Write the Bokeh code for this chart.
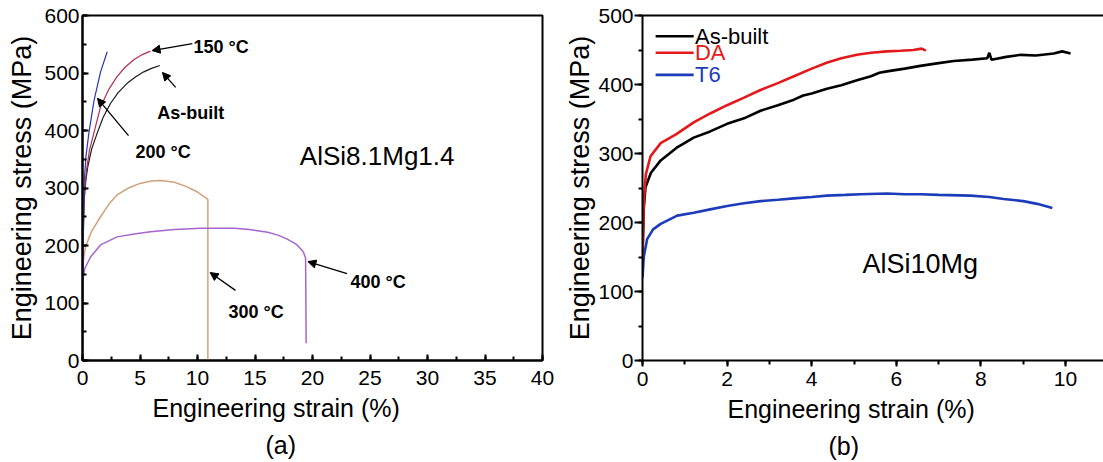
from bokeh.embed import file_html
from bokeh.resources import INLINE
from bokeh.plotting import figure
from bokeh.layouts import row
from bokeh.models import (Range1d, SingleIntervalTicker, LinearAxis, FixedTicker,
                          Label, Arrow, NormalHead, Title)

FONT = "Liberation Sans"

# ---------------- (a) AlSi8.1Mg1.4 at several test temperatures ----------------
asbuilt_a_x = [0, 0.05, 0.15, 0.3, 0.46, 0.8, 1.27, 1.8, 2.43, 3.1, 3.88, 4.6, 5.33, 6.0, 6.72]
asbuilt_a_y = [0, 200, 280, 315, 337, 368, 395, 423, 447, 466, 482, 493, 502, 508, 513]

t150_x = [0, 0.04, 0.15, 0.35, 0.6, 0.98, 1.57, 2.3, 3.02, 3.7, 4.46, 5.2, 5.91]
t150_y = [0, 200, 290, 331, 365, 395, 441, 472, 494, 510, 523, 532, 538]

t200_x = [0, 0.05, 0.15, 0.3, 0.55, 1.0, 1.57, 2.15]
t200_y = [0, 230, 310, 355, 395, 452, 502, 537]

t300_x = [0, 0.05, 0.26, 0.8, 1.57, 2.3, 3.0, 4.0, 5.0, 6.0, 6.8, 8.0, 9.1, 10.0, 10.8, 10.9, 10.9]
t300_y = [0, 170, 198, 225, 250, 272, 288, 300, 308, 312, 313, 310, 302, 293, 282, 280, 0]

t400_x = [0, 0.03, 0.2, 0.7, 1.57, 3.0, 4.5, 5.9, 8.0, 10.3, 13.2, 14.5, 16.1, 17.0, 17.8,
          18.6, 19.2, 19.4, 19.45]
t400_y = [0, 140, 160, 180, 201, 215, 220, 224, 228, 230, 230, 228, 223, 218, 211,
          202, 189, 178, 30]

# annotation texts (label, text x, text baseline y, arrow tail x, tail y, head x, head y)
notes_a = [
    ("150 °C", 9.65, 545, 9.55, 551, 6.05, 539),
    ("As-built", 6.5, 431, 8.1, 475, 6.95, 501),
    ("200 °C", 4.6, 362, 4.0, 391, 1.3, 456),
    ("300 °C", 12.7, 84, 13.3, 122, 11.1, 153),
    ("400 °C", 23.3, 136, 23.0, 151, 19.6, 172),
]

# ---------------- (b) AlSi10Mg in three conditions ----------------
asbuilt_b_x = [0, 0.03, 0.07, 0.2, 0.43, 0.8, 1.21, 1.6, 2.0, 2.4, 2.79, 3.2, 3.58, 3.8, 4.0,
               4.36, 4.7, 5.07, 5.4, 5.6, 5.78, 6.2, 6.57, 7.0, 7.36, 7.8, 8.15, 8.2, 8.25,
               8.6, 8.94, 9.3, 9.72, 9.92, 10.12]
asbuilt_b_y = [150, 220, 251, 272, 290, 308, 323, 332, 343, 351, 362, 370, 378, 384, 387,
               394, 399, 406, 412, 417, 419, 423, 427, 431, 434, 436, 438, 446, 436,
               440, 443, 442, 445, 448, 445]

da_x = [0, 0.03, 0.08, 0.19, 0.43, 0.8, 1.21, 1.6, 2.0, 2.4, 2.79, 3.2, 3.58, 4.0, 4.37, 4.7,
        5.07, 5.4, 5.78, 6.1, 6.4, 6.6, 6.7]
da_y = [150, 230, 270, 296, 315, 328, 345, 358, 370, 381, 392, 402, 412, 423, 432, 438,
        443, 446, 448, 449, 450, 452, 449]

t6_x = [0, 0.03, 0.11, 0.25, 0.43, 0.82, 1.21, 1.6, 2.0, 2.4, 2.79, 3.2, 3.58, 4.0, 4.36, 4.8,
        5.15, 5.78, 6.2, 6.57, 7.0, 7.75, 8.2, 8.54, 9.0, 9.33, 9.69]
t6_y = [120, 150, 176, 190, 198, 210, 214, 219, 224, 228, 231, 233, 235, 237, 239, 240,
        241, 242, 241, 241, 240, 239, 237, 234, 231, 227, 221]

legend_labels = ["As-built", "DA", "T6"]
legend_colors = ["#000000", "#e3191c", "#1c3cba"]
legend_rows_y = [470, 446, 414]


def style_common(p, ylabel_standoff):
    p.xgrid.visible = False
    p.ygrid.visible = False
    p.background_fill_color = "white"
    p.border_fill_color = "white"
    for ax in (p.xaxis[0], p.yaxis[0]):
        ax.axis_line_width = 2
        ax.axis_line_color = "black"
        ax.major_tick_line_width = 2
        ax.minor_tick_line_width = 2
        ax.major_label_text_font = FONT
        ax.major_label_text_font_size = "21px"
        ax.major_label_text_color = "black"
    yax = p.yaxis[0]
    yax.axis_label = "Engineering stress (MPa)"
    yax.axis_label_text_font = FONT
    yax.axis_label_text_font_size = "27px"
    yax.axis_label_text_font_style = "normal"
    yax.axis_label_text_color = "black"
    yax.axis_label_standoff = ylabel_standoff


def bottom_titles(p, label_offset, tag, tag_offset):
    p.add_layout(Title(text="Engineering strain (%)", align="left", offset=label_offset,
                       text_font=FONT, text_font_size="25px", text_font_style="normal",
                       text_color="black", standoff=9), "below")
    p.add_layout(Title(text=tag, align="left", offset=tag_offset,
                       text_font=FONT, text_font_size="25px", text_font_style="normal",
                       text_color="black", standoff=4), "below")


def label(p, text, x, y, size, bold=False, baseline="alphabetic", color="black"):
    p.add_layout(Label(x=x, y=y, text=text, text_font=FONT, text_font_size=size,
                       text_align="left", text_baseline=baseline, text_color=color,
                       text_font_style="bold" if bold else "normal"))


# ---------------- figure (a) ----------------
pa = figure(width=560, height=462, output_backend="svg", toolbar_location=None,
            x_range=Range1d(0, 40), y_range=Range1d(0, 600),
            min_border_left=82, min_border_right=18, min_border_top=15, min_border_bottom=102)
style_common(pa, 4)
pa.outline_line_color = "black"
pa.outline_line_width = 2
pa.xaxis.ticker = SingleIntervalTicker(interval=5, num_minor_ticks=2)
pa.yaxis.ticker = SingleIntervalTicker(interval=100, num_minor_ticks=2)
pa.xaxis.major_tick_in = 6
pa.xaxis.major_tick_out = 0
pa.xaxis.minor_tick_in = 4
pa.xaxis.minor_tick_out = 0
pa.yaxis.major_tick_in = 6
pa.yaxis.major_tick_out = 0
pa.yaxis.minor_tick_in = 4
pa.yaxis.minor_tick_out = 0
pa.xaxis.major_label_standoff = 10
pa.yaxis.major_label_standoff = 3
bottom_titles(pa, 70, "(a)", 183)

pa.line(t300_x, t300_y, line_color="#d2a27a", line_width=1.5)
pa.line(t400_x, t400_y, line_color="#a865cf", line_width=1.5)
pa.line(asbuilt_a_x, asbuilt_a_y, line_color="#1a1a1a", line_width=1.2)
pa.line(t150_x, t150_y, line_color="#b0304a", line_width=1.2)
pa.line(t200_x, t200_y, line_color="#2b33b8", line_width=1.2)

for txt, tx, ty, x0, y0, x1, y1 in notes_a:
    label(pa, txt, tx, ty, "18px", bold=True)
    pa.add_layout(Arrow(x_start=x0, y_start=y0, x_end=x1, y_end=y1, line_width=1.3,
                        line_color="black",
                        end=NormalHead(size=8, fill_color="black", line_color="black")))

label(pa, "AlSi8.1Mg1.4", 18.9, 356, "26px")

# ---------------- figure (b) ----------------
pb = figure(width=543, height=462, output_backend="svg", toolbar_location=None,
            x_range=Range1d(0, 461 / 42.3), y_range=Range1d(0, 500),
            min_border_left=82, min_border_right=0, min_border_top=15, min_border_bottom=102)
style_common(pb, 0)
pb.outline_line_color = None
pb.xaxis.ticker = SingleIntervalTicker(interval=2, num_minor_ticks=2)
pb.yaxis.ticker = SingleIntervalTicker(interval=100, num_minor_ticks=2)
pb.xaxis.major_tick_in = 0
pb.xaxis.major_tick_out = 6
pb.xaxis.minor_tick_in = 0
pb.xaxis.minor_tick_out = 4
pb.yaxis.major_tick_in = 0
pb.yaxis.major_tick_out = 8
pb.yaxis.minor_tick_in = 0
pb.yaxis.minor_tick_out = 4
pb.xaxis.major_label_standoff = 5
pb.yaxis.major_label_standoff = 1
bottom_titles(pb, 85, "(b)", 186)

top = LinearAxis(ticker=FixedTicker(ticks=[]), axis_line_width=2, axis_line_color="black",
                 major_tick_in=0, major_tick_out=0, minor_tick_in=0, minor_tick_out=0,
                 major_label_text_font_size="0px")
pb.add_layout(top, "above")

pb.line(t6_x, t6_y, line_color=legend_colors[2], line_width=2.6)
pb.line(asbuilt_b_x, asbuilt_b_y, line_color=legend_colors[0], line_width=2.6)
pb.line(da_x, da_y, line_color=legend_colors[1], line_width=2.6)

pb.segment(x0=[0.31] * 3, y0=legend_rows_y, x1=[1.21] * 3, y1=legend_rows_y,
           line_color=legend_colors, line_width=2.6)
for name, col, yy in zip(legend_labels, legend_colors, legend_rows_y):
    label(pb, name, 1.24, yy, "22px", baseline="middle", color=col)

label(pb, "AlSi10Mg", 5.2, 140, "27px")

layout = row(pa, pb)
open("out.html", "w").write(file_html(layout, INLINE))
